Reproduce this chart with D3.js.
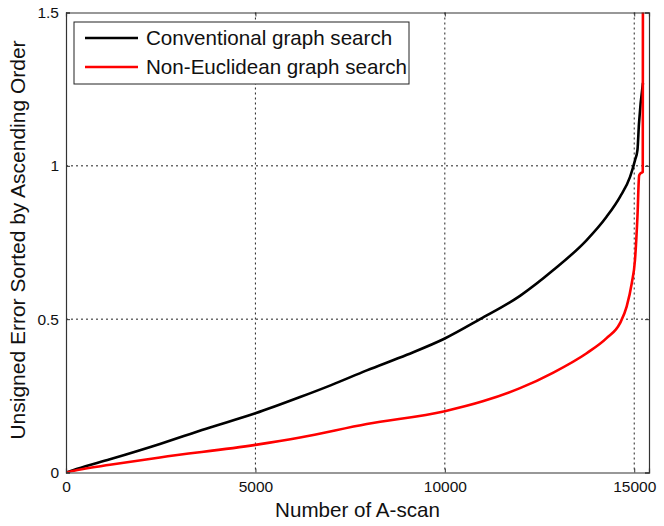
<!DOCTYPE html>
<html>
<head>
<meta charset="utf-8">
<script src="https://cdn.jsdelivr.net/npm/d3@7"></script>
<style>
  body { margin: 0; background: #fff; }
  svg { display: block; font-family: "Liberation Sans", Arial, sans-serif; }
</style>
</head>
<body>
<div id="chart"></div>
<script>
// values (A-scan index, unsigned error)
var conventionalX = [0, 300, 1160, 2480, 3700, 5000, 6180, 7000, 7940, 9000, 10000, 10930, 11985, 12865, 13745, 14270, 14625, 14890, 15020, 15085, 15125, 15230];
var conventionalY = [0, 0.012, 0.043, 0.093, 0.143, 0.193, 0.246, 0.285, 0.333, 0.384, 0.437, 0.5, 0.576, 0.66, 0.758, 0.834, 0.899, 0.964, 1.018, 1.051, 1.137, 1.27];

var nonEuclidX = [0, 300, 1160, 2480, 5000, 6180, 7940, 10000, 11000, 11985, 12865, 13745, 14270, 14625, 14800, 14935, 15020, 15085, 15130, 15160, 15225, 15230];
var nonEuclidY = [0, 0.008, 0.025, 0.049, 0.09, 0.114, 0.158, 0.2, 0.232, 0.275, 0.326, 0.389, 0.438, 0.487, 0.541, 0.617, 0.693, 0.834, 0.969, 0.975, 0.98, 1.6];

var seriesNames = ["Conventional graph search", "Non-Euclidean graph search"];
var seriesColors = ["#000000", "#ff0000"];
var xTicks = [0, 5000, 10000, 15000];
var yTicks = [0, 0.5, 1, 1.5];

var width = 664, height = 526;
var margin = {top: 12.5, right: 15, bottom: 53.5, left: 66};
var w = width - margin.left - margin.right,
    h = height - margin.top - margin.bottom;

var svg = d3.select("#chart").append("svg")
    .attr("width", width)
    .attr("height", height);

var x = d3.scaleLinear().domain([0, 15390]).range([0, w]);
var y = d3.scaleLinear().domain([0, 1.5]).range([h, 0]);

var g = svg.append("g")
    .attr("transform", "translate(" + margin.left + "," + margin.top + ")");

svg.append("defs").append("clipPath").attr("id", "clip")
  .append("rect").attr("width", w).attr("height", h);

// dotted grid
g.append("g").selectAll("line.gx")
    .data(xTicks.filter(function(d) { return d > 0; }))
  .enter().append("line")
    .attr("x1", function(d) { return x(d); })
    .attr("x2", function(d) { return x(d); })
    .attr("y1", 0).attr("y2", h)
    .attr("stroke", "#222").attr("stroke-dasharray", "2,3");

g.append("g").selectAll("line.gy")
    .data(yTicks.filter(function(d) { return d > 0 && d < 1.5; }))
  .enter().append("line")
    .attr("y1", function(d) { return y(d); })
    .attr("y2", function(d) { return y(d); })
    .attr("x1", 0).attr("x2", w)
    .attr("stroke", "#222").attr("stroke-dasharray", "2,3");

// curves
var data = [
  d3.zip(conventionalX, conventionalY),
  d3.zip(nonEuclidX, nonEuclidY)
];

var line = d3.line()
    .curve(d3.curveMonotoneX)
    .x(function(d) { return x(d[0]); })
    .y(function(d) { return y(d[1]); });

g.append("g").attr("clip-path", "url(#clip)")
  .selectAll("path")
    .data(data)
  .enter().append("path")
    .attr("d", line)
    .attr("fill", "none")
    .attr("stroke", function(d, i) { return seriesColors[i]; })
    .attr("stroke-width", 2.6)
    .attr("stroke-linejoin", "round");

// axes (MATLAB style: inward ticks on all sides)
var xAxis = g.append("g")
    .attr("transform", "translate(0," + h + ")")
    .call(d3.axisBottom(x).tickValues(xTicks).tickSize(-4).tickPadding(8).tickFormat(d3.format("d")));
var xTop = g.append("g")
    .call(d3.axisTop(x).tickValues(xTicks).tickSize(-4).tickFormat(""));
var yAxis = g.append("g")
    .call(d3.axisLeft(y).tickValues(yTicks).tickSize(-4).tickPadding(7).tickFormat(function(d) { return d; }));
var yRight = g.append("g")
    .attr("transform", "translate(" + w + ",0)")
    .call(d3.axisRight(y).tickValues(yTicks).tickSize(-4).tickFormat(""));

[xAxis, xTop, yAxis, yRight].forEach(function(a) {
  a.select(".domain").attr("stroke", "#333").attr("stroke-width", 1.2);
  a.selectAll(".tick line").attr("stroke", "#333");
  a.selectAll("text").attr("font-size", 15.5).attr("fill", "#111")
    .attr("font-family", "Liberation Sans, Arial, sans-serif");
});

// axis labels
svg.append("text")
    .attr("x", margin.left + w / 2)
    .attr("y", 516.5)
    .attr("text-anchor", "middle")
    .attr("font-size", 20.6)
    .attr("fill", "#111")
    .text("Number of A-scan");

svg.append("text")
    .attr("transform", "translate(25," + 240 + ") rotate(-90)")
    .attr("text-anchor", "middle")
    .attr("font-size", 21)
    .attr("fill", "#111")
    .text("Unsigned Error Sorted by Ascending Order");

// legend
var legend = svg.append("g").attr("transform", "translate(74,22)");
legend.append("rect")
    .attr("width", 335).attr("height", 62)
    .attr("fill", "#fff").attr("stroke", "#222").attr("stroke-width", 1);

var item = legend.selectAll("g.item")
    .data(seriesNames)
  .enter().append("g")
    .attr("transform", function(d, i) { return "translate(0," + (16 + i * 29) + ")"; });

item.append("line")
    .attr("x1", 11).attr("x2", 64)
    .attr("stroke", function(d, i) { return seriesColors[i]; })
    .attr("stroke-width", 2.6);

item.append("text")
    .attr("x", 72)
    .attr("dy", "0.35em")
    .attr("font-size", 20.6)
    .attr("fill", "#111")
    .text(function(d) { return d; });
</script>
</body>
</html>
